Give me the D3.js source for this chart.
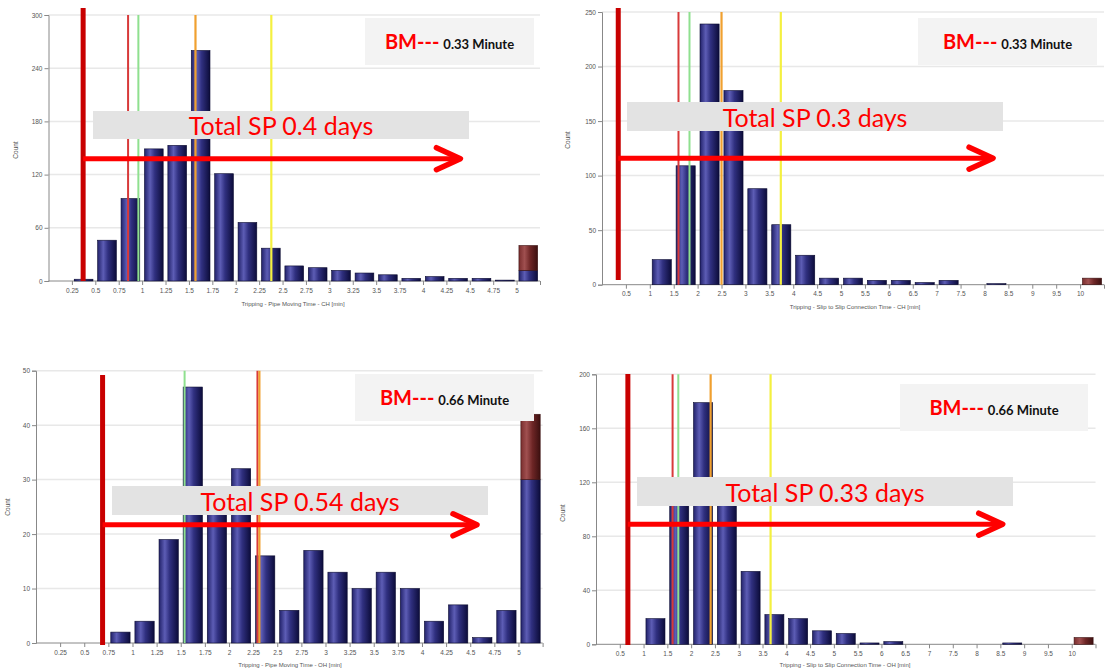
<!DOCTYPE html>
<html><head><meta charset="utf-8">
<script src="https://cdn.jsdelivr.net/npm/d3@7"></script>
<style>body{margin:0;background:#fff}svg{display:block}</style>
</head><body><svg id="c" width="1106" height="672"></svg>
<script>
// ---------------- DATA ----------------
// Panel 1: Tripping - Pipe Moving Time - CH
const p1Bins   = [0.25,0.5,0.75,1,1.25,1.5,1.75,2,2.25,2.5,2.75,3,3.25,3.5,3.75,4,4.25,4.5,4.75];
const p1Counts = [2,46,93,149,153,260,121,66,37,17,15,12,9,7,3,5,3,3,1];
const p1Overflow = [12,40];            // [in-range part, total] of last (overflow) bin at 5
const p1Markers = [0.37,0.85,0.96,1.57,2.38]; // [BM limit, red, green, orange, yellow]
const p1XTicks = d3.range(1,21).map(i=>i*0.25);
const p1YTicks = [0,60,120,180,240,300];

// Panel 2: Tripping - Slip to Slip Connection Time - CH
const p2Bins   = [1,1.5,2,2.5,3,3.5,4,4.5,5,5.5,6,6.5,7,7.5,8];
const p2Counts = [23,109,239,178,88,55,27,6,6,4,4,2,4,0,1];
const p2Overflow = [0,6];
const p2Markers = [0.34,1.6,1.83,2.5,3.74];
const p2XTicks = d3.range(1,21).map(i=>i*0.5);
const p2YTicks = [0,50,100,150,200,250];

// Panel 3: Tripping - Pipe Moving Time - OH
const p3Bins   = [0.75,1,1.25,1.5,1.75,2,2.25,2.5,2.75,3,3.25,3.5,3.75,4,4.25,4.5,4.75];
const p3Counts = [2,4,19,47,25,32,16,6,17,13,10,13,10,4,7,1,6];
const p3Overflow = [30,42];
const p3Markers = [0.69,2.295,1.54,2.315,null];
const p3XTicks = d3.range(1,21).map(i=>i*0.25);
const p3YTicks = [0,10,20,30,40,50];

// Panel 4: Tripping - Slip to Slip Connection Time - OH
const p4Bins   = [1,1.5,2,2.5,3,3.5,4,4.5,5,5.5,6,6.5,7,7.5,8,8.5];
const p4Counts = [19,110,179,106,54,22,19,10,8,1,2,0,0,0,0,1];
const p4Overflow = [0,5];
const p4Markers = [0.67,1.61,1.73,2.41,3.67];
const p4XTicks = d3.range(1,21).map(i=>i*0.5);
const p4YTicks = [0,40,80,120,160,200];

const xTitles = ["Tripping - Pipe Moving Time - CH [min]","Tripping - Slip to Slip Connection Time - CH [min]",
                 "Tripping - Pipe Moving Time - OH [min]","Tripping - Slip to Slip Connection Time - OH [min]"];
const spLabels = ["Total SP 0.4 days","Total SP 0.3 days","Total SP 0.54 days","Total SP 0.33 days"];
const bmValues = ["0.33 Minute","0.33 Minute","0.66 Minute","0.66 Minute"];
const arrowEnds = [4.4, 8.18, 4.57, 8.55];   // x value where the SP arrow ends
const arrowLevels = [138, 116, 21.7, 89];   // y value of the SP arrow

// ---------------- LAYOUT ----------------
const panels = [
  {bins:p1Bins,counts:p1Counts,ov:p1Overflow,mk:p1Markers,xt:p1XTicks,yt:p1YTicks,bw:0.25,xmax:5.25,
   xr:[48.5,540],yr:[281,15],thickTop:8,thickBot:281,spBox:[93,111,376,28],bmBox:[365,18,169,47],ylab:[18,150],xlab:[293,306]},
  {bins:p2Bins,counts:p2Counts,ov:p2Overflow,mk:p2Markers,xt:p2XTicks,yt:p2YTicks,bw:0.5,xmax:10.5,
   xr:[602,1104],yr:[284.7,12],thickTop:8,thickBot:280,spBox:[627,102,376,29],bmBox:[918,18,179,47],ylab:[570,140],xlab:[855,309]},
  {bins:p3Bins,counts:p3Counts,ov:p3Overflow,mk:p3Markers,xt:p3XTicks,yt:p3YTicks,bw:0.25,xmax:5.25,
   xr:[36,542.6],yr:[643,370.7],thickTop:375,thickBot:645,spBox:[112,486,376,29],bmBox:[355,374,179,47],ylab:[10,507],xlab:[290,667]},
  {bins:p4Bins,counts:p4Counts,ov:p4Overflow,mk:p4Markers,xt:p4XTicks,yt:p4YTicks,bw:0.5,xmax:10.5,
   xr:[596,1095.5],yr:[644.3,374.3],thickTop:374,thickBot:645,spBox:[637,477,376,29],bmBox:[900,384,188,47],ylab:[565,513],xlab:[845,667]}
];

const svg = d3.select("#c");
const defs = svg.append("defs");
const g1 = defs.append("linearGradient").attr("id","barGrad").attr("x1","0").attr("x2","1").attr("y1","0").attr("y2","0");
[[0,"#22226a"],[0.3,"#5d5db5"],[0.55,"#303080"],[1,"#0c0c3a"]].forEach(s=>g1.append("stop").attr("offset",s[0]).attr("stop-color",s[1]));
const g2 = defs.append("linearGradient").attr("id","ovGrad").attr("x1","0").attr("x2","1").attr("y1","0").attr("y2","0");
[[0,"#7a2e2e"],[0.3,"#a05050"],[0.6,"#6e2626"],[1,"#3c1010"]].forEach(s=>g2.append("stop").attr("offset",s[0]).attr("stop-color",s[1]));

const markerStyle = [
  {c:"#c80000",w:5},  // BM limit (thick)
  {c:"#d83a3a",w:2},  // red
  {c:"#8fe08f",w:2},  // green
  {c:"#f0a030",w:2.2},// orange
  {c:"#f4f040",w:2.2} // yellow
];

panels.forEach((p,i)=>{
  const g = svg.append("g");
  const x = d3.scaleLinear().domain([0,p.xmax]).range(p.xr);
  const y = d3.scaleLinear().domain([0,p.yt[p.yt.length-1]]).range(p.yr);

  // gridlines
  g.append("g").selectAll("line").data(p.yt.filter(v=>v>0)).join("line")
    .attr("x1",p.xr[0]).attr("x2",p.xr[1]).attr("y1",d=>y(d)).attr("y2",d=>y(d))
    .attr("stroke","#e8e8e8").attr("stroke-width",1.5);

  // y axis
  const ya = g.append("g").attr("transform",`translate(${p.xr[0]},0)`)
    .call(d3.axisLeft(y).tickValues(p.yt).tickSize(4).tickPadding(2));
  ya.select(".domain").attr("stroke","#888");
  ya.selectAll(".tick line").attr("stroke","#888");
  ya.selectAll("text").attr("font-family","Liberation Sans").attr("font-size",6.5).attr("fill","#555");

  // x axis
  const xa = g.append("g").attr("transform",`translate(0,${p.yr[0]})`)
    .call(d3.axisBottom(x).tickValues(p.xt.concat([p.xmax])).tickSize(4).tickPadding(3)
      .tickFormat(d=> d>=p.xmax ? "" : String(d)));
  xa.select(".domain").attr("stroke","#888").attr("d",`M${p.xr[0]},0H${p.xr[1]}`);
  xa.selectAll(".tick line").attr("stroke","#888");
  xa.selectAll("text").attr("font-family","Liberation Sans").attr("font-size",6.5).attr("fill","#555");

  // bars
  const bwPx = x(p.bw)-x(0);
  const inset = bwPx*0.1;
  const data = p.bins.map((b,k)=>({b,c:p.counts[k]})).filter(d=>d.c>0);
  g.append("g").selectAll("rect").data(data).join("rect")
    .attr("x",d=>x(d.b)+inset).attr("width",bwPx-2*inset)
    .attr("y",d=>y(d.c)).attr("height",d=>y(0)-y(d.c))
    .attr("fill","url(#barGrad)").attr("stroke","#0a0a30").attr("stroke-width",0.6);
  // overflow bin
  const ovX = p.xmax - p.bw;
  if (p.ov[0]>0) g.append("rect").attr("x",x(ovX)+inset).attr("width",bwPx-2*inset)
    .attr("y",y(p.ov[0])).attr("height",y(0)-y(p.ov[0])).attr("fill","url(#barGrad)").attr("stroke","#0a0a30").attr("stroke-width",0.6);
  g.append("rect").attr("x",x(ovX)+inset).attr("width",bwPx-2*inset)
    .attr("y",y(p.ov[1])).attr("height",y(p.ov[0])-y(p.ov[1])).attr("fill","url(#ovGrad)").attr("stroke","#3a1010").attr("stroke-width",0.6);

  // marker lines (thin ones first, thick last)
  [1,2,3,4].forEach(k=>{
    if (p.mk[k]==null) return;
    g.append("line").attr("x1",x(p.mk[k])).attr("x2",x(p.mk[k])).attr("y1",p.yr[1]).attr("y2",p.yr[0])
      .attr("stroke",markerStyle[k].c).attr("stroke-width",markerStyle[k].w);
  });
  g.append("line").attr("x1",x(p.mk[0])).attr("x2",x(p.mk[0])).attr("y1",p.thickTop).attr("y2",p.thickBot)
    .attr("stroke",markerStyle[0].c).attr("stroke-width",markerStyle[0].w);

  // axis titles
  g.append("text").attr("transform",`translate(${p.ylab[0]},${p.ylab[1]}) rotate(-90)`)
    .attr("text-anchor","middle").attr("font-family","Liberation Sans").attr("font-size",6.5).attr("fill","#555").text("Count");
  g.append("text").attr("x",p.xlab[0]).attr("y",p.xlab[1]).attr("text-anchor","middle")
    .attr("font-family","Liberation Sans").attr("font-size",6).attr("fill","#555").text(xTitles[i]);

  // Total SP box
  const sb = p.spBox;
  g.append("rect").attr("x",sb[0]).attr("y",sb[1]).attr("width",sb[2]).attr("height",sb[3]).attr("fill","#e3e3e3");
  g.append("text").attr("x",sb[0]+sb[2]/2).attr("y",sb[1]+sb[3]-4).attr("text-anchor","middle")
    .attr("font-family","Lato").attr("font-size",25).attr("fill","#ff0000").text(spLabels[i]);

  // arrow
  const ax0 = x(p.mk[0]), ax1 = x(arrowEnds[i]), ay = y(arrowLevels[i]);
  g.append("line").attr("x1",ax0).attr("x2",ax1-2).attr("y1",ay).attr("y2",ay).attr("stroke","#ff0000").attr("stroke-width",5);
  g.append("path").attr("d",`M${ax1-24},${ay-11}L${ax1},${ay}L${ax1-24},${ay+11}`)
    .attr("fill","none").attr("stroke","#ff0000").attr("stroke-width",5.5).attr("stroke-linecap","round").attr("stroke-linejoin","round");

  // BM box
  const bb = p.bmBox;
  g.append("rect").attr("x",bb[0]).attr("y",bb[1]).attr("width",bb[2]).attr("height",bb[3]).attr("fill","#f3f3f3");
  const t = g.append("text").attr("x",bb[0]+bb[2]/2).attr("y",bb[1]+bb[3]/2+7).attr("text-anchor","middle")
    .attr("font-family","Lato").attr("font-weight","bold");
  t.append("tspan").attr("font-size",20).attr("fill","#ff0000").text("BM---");
  t.append("tspan").attr("font-size",13).attr("fill","#111").attr("dx",4).text(bmValues[i]);
});
</script></body></html>
